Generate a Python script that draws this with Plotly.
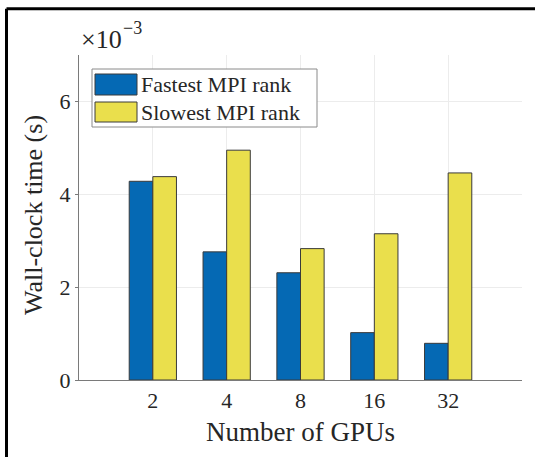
import plotly.graph_objects as go

# Wall-clock time per MPI rank (seconds) vs. number of GPUs
gpus = ["2", "4", "8", "16", "32"]
fastest_rank = [4.28e-3, 2.76e-3, 2.31e-3, 1.02e-3, 0.79e-3]
slowest_rank = [4.38e-3, 4.95e-3, 2.83e-3, 3.15e-3, 4.46e-3]
series_names = ["Fastest MPI rank", "Slowest MPI rank"]
y_tick_vals = [0, 2e-3, 4e-3, 6e-3]
y_tick_text = ["0", "2", "4", "6"]

BLUE = "#0569B4"
YELLOW = "#EADF4C"
TEXT = "#262626"
FONT = "Liberation Serif"

W, H = 535, 457
L, R, T, B = 79, 13, 55, 77
PW, PH = W - L - R, H - T - B


def px_x(p):
    return (p - L) / PW


def px_y(p):
    return (H - B - p) / PH


fig = go.Figure()
for name, vals, col in [(series_names[0], fastest_rank, BLUE),
                        (series_names[1], slowest_rank, YELLOW)]:
    fig.add_trace(go.Bar(
        x=gpus, y=vals, name=name, showlegend=False,
        marker=dict(color=col, line=dict(color="#3a3a3a", width=1)),
    ))

shapes = [
    # frame lines along the top and left of the figure
    dict(type="line", xref="paper", yref="paper",
         x0=px_x(6.5), x1=px_x(540), y0=px_y(8.7), y1=px_y(8.7),
         line=dict(color="black", width=3)),
    dict(type="line", xref="paper", yref="paper",
         x0=px_x(6.5), x1=px_x(6.5), y0=px_y(8.7), y1=px_y(470),
         line=dict(color="black", width=3)),
    # legend box
    dict(type="rect", xref="paper", yref="paper",
         x0=px_x(92), x1=px_x(317), y0=px_y(127), y1=px_y(69),
         line=dict(color="#8a8a8a", width=1), fillcolor="white", layer="above"),
    dict(type="rect", xref="paper", yref="paper",
         x0=px_x(95), x1=px_x(137), y0=px_y(95), y1=px_y(74),
         line=dict(color="#3a3a3a", width=1), fillcolor=BLUE, layer="above"),
    dict(type="rect", xref="paper", yref="paper",
         x0=px_x(95), x1=px_x(137), y0=px_y(122), y1=px_y(102),
         line=dict(color="#3a3a3a", width=1), fillcolor=YELLOW, layer="above"),
]

annotations = [
    dict(text=series_names[0], xref="paper", yref="paper",
         x=px_x(139), y=px_y(84.5), xanchor="left", yanchor="middle",
         showarrow=False, font=dict(family=FONT, size=22, color=TEXT)),
    dict(text=series_names[1], xref="paper", yref="paper",
         x=px_x(139), y=px_y(112), xanchor="left", yanchor="middle",
         showarrow=False, font=dict(family=FONT, size=22, color=TEXT)),
    # axis multiplier: base and exponent set as separate texts
    dict(text="×10", xref="paper", yref="paper",
         x=px_x(79), y=px_y(39), xanchor="left", yanchor="middle",
         showarrow=False, font=dict(family=FONT, size=26, color=TEXT)),
    dict(text="−3", xref="paper", yref="paper",
         x=px_x(121), y=px_y(28), xanchor="left", yanchor="middle",
         showarrow=False, font=dict(family=FONT, size=18, color=TEXT)),
    dict(text="Number of GPUs", xref="paper", yref="paper",
         x=px_x(300.5), y=px_y(432), xanchor="center", yanchor="middle",
         showarrow=False, font=dict(family=FONT, size=27, color=TEXT)),
    dict(text="Wall-clock time (s)", xref="paper", yref="paper",
         x=px_x(33), y=px_y(215), xanchor="center", yanchor="middle",
         textangle=-90, showarrow=False,
         font=dict(family=FONT, size=26, color=TEXT)),
]

fig.update_layout(
    width=W, height=H,
    margin=dict(l=L, r=R, t=T, b=B, pad=0),
    paper_bgcolor="white", plot_bgcolor="white",
    barmode="group", bargap=0.36, bargroupgap=0,
    font=dict(family=FONT, color=TEXT),
    shapes=shapes, annotations=annotations,
)
fig.update_xaxes(
    type="category", range=[-1, 5],
    showgrid=True, gridcolor="#ececec", gridwidth=1,
    showline=True, linecolor="#7a7a7a", linewidth=1,
    ticks="", ticklabelstandoff=1,
    tickfont=dict(family=FONT, size=22, color=TEXT),
    zeroline=False,
)
fig.update_yaxes(
    range=[0, 7e-3], tickvals=y_tick_vals, ticktext=y_tick_text,
    showgrid=True, gridcolor="#ececec", gridwidth=1,
    showline=True, linecolor="#7a7a7a", linewidth=1,
    ticks="outside", ticklen=3, tickcolor="#7a7a7a",
    tickfont=dict(family=FONT, size=22, color=TEXT),
    zeroline=False,
)

fig.write_html("out.html")
